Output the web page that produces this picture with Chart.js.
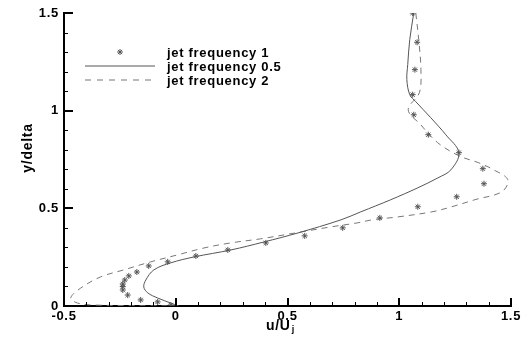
<!DOCTYPE html>
<html>
<head>
<meta charset="utf-8">
<script src="https://cdn.jsdelivr.net/npm/chart.js@4.4.0/dist/chart.umd.min.js"></script>
<style>
  html, body { margin: 0; padding: 0; background: #fff; }
  #wrap { width: 529px; height: 340px; }
</style>
</head>
<body>
<div id="wrap"><canvas id="jetChart"></canvas></div>
<script>
// series labels
const seriesNames = ['jet frequency 1', 'jet frequency 0.5', 'jet frequency 2'];

// jet frequency 1 (asterisks)
const f1U = [1.06, 1.08, 1.07, 1.06, 1.065, 1.13, 1.267, 1.374, 1.379, 1.257, 1.083, 0.913, 0.747, 0.577, 0.403, 0.233, 0.09, -0.036, -0.121, -0.174, -0.21, -0.228, -0.237, -0.237, -0.237, -0.215, -0.157, -0.081, -0.022];
const f1Y = [1.5, 1.35, 1.21, 1.082, 0.979, 0.877, 0.785, 0.703, 0.626, 0.559, 0.508, 0.451, 0.4, 0.359, 0.323, 0.287, 0.256, 0.226, 0.205, 0.174, 0.154, 0.133, 0.113, 0.1, 0.082, 0.056, 0.031, 0.021, 0.005];

// jet frequency 0.5 (solid)
const f05U = [1.065, 1.047, 1.038, 1.034, 1.047, 1.074, 1.141, 1.208, 1.267, 1.231, 1.173, 1.083, 0.962, 0.828, 0.739, 0.547, 0.395, 0.247, 0.081, -0.022, -0.098, -0.134, -0.143, -0.125, -0.081, -0.022, 0.013];
const f05Y = [1.5, 1.364, 1.236, 1.159, 1.082, 1.046, 0.964, 0.877, 0.785, 0.697, 0.656, 0.605, 0.544, 0.482, 0.441, 0.374, 0.328, 0.287, 0.251, 0.221, 0.185, 0.133, 0.097, 0.067, 0.041, 0.015, 0];

// jet frequency 2 (dashed)
const f2U = [1.074, 1.087, 1.097, 1.09, 1.04, 1.096, 1.172, 1.267, 1.356, 1.423, 1.486, 1.459, 1.338, 1.235, 1.146, 0.993, 0.877, 0.815, 0.694, 0.56, 0.38, 0.246, 0.126, 0.009, -0.112, -0.232, -0.336, -0.425, -0.47, -0.439, -0.367, 0];
const f2Y = [1.5, 1.364, 1.21, 1.092, 1.005, 0.928, 0.836, 0.769, 0.733, 0.697, 0.646, 0.585, 0.544, 0.508, 0.482, 0.456, 0.441, 0.426, 0.405, 0.379, 0.344, 0.323, 0.297, 0.262, 0.226, 0.185, 0.149, 0.092, 0.041, 0.015, 0.005, 0];

// axis ticks
const xTicks = [-0.5, 0, 0.5, 1, 1.5];
const yTicks = [0, 0.5, 1, 1.5];

function pairs(us, ys) {
  return us.map((u, i) => ({x: u, y: ys[i]}));
}

const FONT = '"Liberation Sans", Arial, sans-serif';

// inward ticks, axis titles and legend
const decor = {
  id: 'decor',
  beforeDraw(chart) {
    // the scanned figure uses a slightly wider bold face
    chart.ctx.letterSpacing = '0.7px';
  },
  afterDraw(chart) {
    const ctx = chart.ctx;
    const xs = chart.scales.x, ys = chart.scales.y;
    const a = chart.chartArea;
    ctx.save();
    ctx.strokeStyle = '#000';
    // major ticks
    ctx.lineWidth = 2;
    xTicks.forEach(v => {
      const px = Math.round(xs.getPixelForValue(v));
      ctx.beginPath(); ctx.moveTo(px, a.bottom); ctx.lineTo(px, a.bottom - 8); ctx.stroke();
    });
    yTicks.forEach(v => {
      const py = Math.round(ys.getPixelForValue(v));
      ctx.beginPath(); ctx.moveTo(a.left, py); ctx.lineTo(a.left + 9, py); ctx.stroke();
    });
    // minor ticks
    ctx.lineWidth = 1;
    for (let v = -0.4; v < 1.5; v += 0.1) {
      const px = Math.round(xs.getPixelForValue(v)) + 0.5;
      ctx.beginPath(); ctx.moveTo(px, a.bottom); ctx.lineTo(px, a.bottom - 4); ctx.stroke();
    }
    for (let v = 0.1; v < 1.5; v += 0.1) {
      const py = Math.round(ys.getPixelForValue(v)) + 0.5;
      ctx.beginPath(); ctx.moveTo(a.left, py); ctx.lineTo(a.left + 4, py); ctx.stroke();
    }

    // axis titles
    ctx.fillStyle = '#000';
    ctx.font = 'bold 14px ' + FONT;
    ctx.textBaseline = 'middle';
    ctx.textAlign = 'center';
    ctx.save();
    ctx.translate(28, 148);
    ctx.rotate(-Math.PI / 2);
    ctx.fillText('y/delta', 0, 0);
    ctx.restore();
    ctx.textAlign = 'left';
    const tx = 266, ty = 326;
    ctx.fillText('u/U', tx, ty);
    const w = ctx.measureText('u/U').width;
    ctx.font = 'bold 9px ' + FONT;
    ctx.fillText('j', tx + w + 1, ty + 4);

    // legend
    ctx.font = 'bold 13px ' + FONT;
    const rows = [52, 66, 80];
    rows.forEach((ry, i) => ctx.fillText(seriesNames[i], 167, ry + 1));
    ctx.strokeStyle = '#555';
    ctx.lineWidth = 1;
    ctx.beginPath(); ctx.moveTo(85, rows[1]); ctx.lineTo(155, rows[1]); ctx.stroke();
    ctx.setLineDash([6, 6]);
    ctx.strokeStyle = '#777';
    ctx.beginPath(); ctx.moveTo(85, rows[2]); ctx.lineTo(155, rows[2]); ctx.stroke();
    ctx.setLineDash([]);
    ctx.strokeStyle = '#555';
    Chart.helpers.drawPoint(ctx, {pointStyle: 'star', radius: 3, borderWidth: 1}, 120, rows[0]);
    ctx.restore();
  }
};

Chart.defaults.font.family = FONT;
Chart.defaults.font.weight = 'bold';
Chart.defaults.font.size = 13;
Chart.defaults.color = '#000';

new Chart(document.getElementById('jetChart'), {
  type: 'scatter',
  data: {
    datasets: [{
      label: seriesNames[0],
      data: pairs(f1U, f1Y),
      showLine: false,
      pointStyle: 'star',
      pointRadius: 3,
      borderColor: '#555',
      borderWidth: 1
    }, {
      label: seriesNames[1],
      data: pairs(f05U, f05Y),
      showLine: true,
      pointRadius: 0,
      borderColor: '#555',
      borderWidth: 1,
      tension: 0.35
    }, {
      label: seriesNames[2],
      data: pairs(f2U, f2Y),
      showLine: true,
      pointRadius: 0,
      borderColor: '#777',
      borderWidth: 1,
      borderDash: [6, 5],
      tension: 0.35
    }]
  },
  options: {
    responsive: true,
    maintainAspectRatio: false,
    animation: false,
    layout: { padding: { top: 13, right: 18, left: 0, bottom: 0 } },
    plugins: { legend: { display: false }, tooltip: { enabled: false } },
    scales: {
      x: {
        type: 'linear',
        min: -0.5, max: 1.5,
        afterFit: s => { s.height = 34; },
        afterBuildTicks: s => { s.ticks = xTicks.map(v => ({value: v})); },
        grid: { drawOnChartArea: false, drawTicks: false },
        border: { color: '#000', width: 2 },
        ticks: { padding: 3, maxRotation: 0, callback: v => String(v) }
      },
      y: {
        type: 'linear',
        min: 0, max: 1.5,
        afterFit: s => { s.width = 64; },
        afterBuildTicks: s => { s.ticks = yTicks.map(v => ({value: v})); },
        grid: { drawOnChartArea: false, drawTicks: false },
        border: { color: '#000', width: 2 },
        ticks: { padding: 5, callback: v => String(v) }
      }
    }
  },
  plugins: [decor]
});
</script>
</body>
</html>
